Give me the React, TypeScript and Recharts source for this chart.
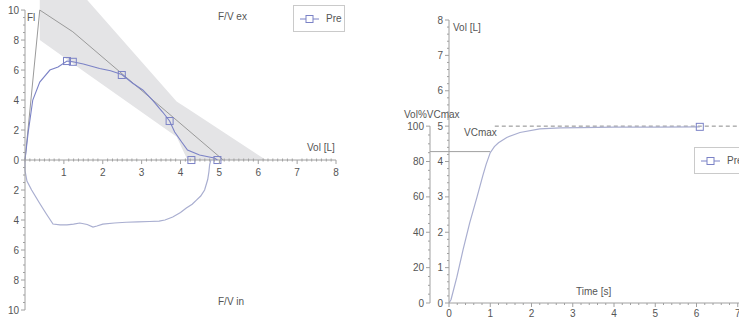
import React from 'react';
import {
  ComposedChart,
  Line,
  Area,
  Scatter,
  XAxis,
  YAxis,
  ReferenceLine,
  Legend,
} from 'recharts';

// ---- flow / volume loop (left) ----
const expVol = [0, 0.08, 0.2, 0.38, 0.64, 0.85, 1.08, 1.23, 1.5, 1.92, 2.2, 2.49, 2.78, 3.03, 3.28, 3.54, 3.72, 3.85, 4.03, 4.18, 4.49, 4.74, 4.87, 4.95];
const expFlow = [0, 1.8, 4.0, 5.2, 6.0, 6.2, 6.6, 6.55, 6.4, 6.1, 5.95, 5.7, 5.1, 4.67, 4.0, 3.2, 2.6, 1.87, 1.2, 0.67, 0.33, 0.2, 0.13, 0];

const inspVol = [0, 0, 0.05, 0.17, 0.38, 0.55, 0.72, 0.9, 1.08, 1.25, 1.41, 1.6, 1.75, 1.85, 2.0, 2.3, 2.6, 2.9, 3.2, 3.45, 3.6, 3.8, 4.0, 4.15, 4.3, 4.41, 4.52, 4.62, 4.7, 4.73, 4.75, 4.78];
const inspFlow = [0, -0.7, -1.4, -2.0, -2.9, -3.6, -4.27, -4.33, -4.33, -4.27, -4.2, -4.3, -4.47, -4.4, -4.27, -4.2, -4.15, -4.13, -4.1, -4.07, -4.0, -3.8, -3.5, -3.2, -2.95, -2.67, -2.4, -2.0, -1.3, -0.8, -0.3, 0];

const predVol = [0, 0.38, 1.23, 5.1];
const predFlow = [0, 10, 8.55, 0];

const bandVol = [0.38, 1.6, 3.9, 4.18, 6.2];
const bandLow = [8, 5.76, 1.55, 0, 0];
const bandHigh = [10.67, 10.67, 3.9, 3.43, 0];

const preVol = [1.08, 1.23, 2.49, 3.72, 4.28, 4.95];
const preFlow = [6.6, 6.55, 5.67, 2.6, 0, 0];

const flowLabels = [-10, -8, -6, -4, -2, 0, 2, 4, 6, 8, 10];
const volLabels = [1, 2, 3, 4, 5, 6, 7, 8];

// ---- volume / time (right) ----
const timeS = [0, 0.05, 0.19, 0.34, 0.5, 0.68, 0.82, 0.9, 1.0, 1.1, 1.2, 1.4, 1.72, 2.2, 2.7, 3.2, 4.0, 5.0, 6.08];
const volL = [0, 0.1, 0.73, 1.5, 2.26, 3.0, 3.6, 3.92, 4.25, 4.42, 4.53, 4.68, 4.82, 4.92, 4.95, 4.96, 4.97, 4.97, 4.98];

const vcMarkT = [6.08];
const vcMarkV = [4.98];
const vcMax = 5;
const vcLineStart = 1.11;
const fev1 = 4.28;
const fev1Time = 1.0;
const pctAxisT = -0.46;

const pctLabels = [0, 20, 40, 60, 80, 100];
const timeLabels = [0, 1, 2, 3, 4, 5, 6, 7, 8];
const volTimeLabels = [0, 1, 2, 3, 4, 5, 6, 7, 8];

const FONT = '"Liberation Sans", Arial, sans-serif';
const TXT = '#555';
const AXIS = '#a0a0a0';
const BLUE = '#7b82c6';
const LIGHT = '#a9aed0';
const GREY = '#9a9a9a';
const BAND = '#e4e4e6';

const L_H = 310;
const L_TOP = 10.67;
const ZERO_OFFSET = (L_H * 10) / (L_TOP + 10);
const TOP_GAP = (L_H * (L_TOP - 10)) / (L_TOP + 10);
const R_H = 283;
const PCT_MAX = 160;

const zip = (xs: number[], ys: number[], kx: string, ky: string) =>
  xs.map((x, i) => ({ [kx]: x, [ky]: ys[i] }));

const expData = zip(expVol, expFlow, 'vol', 'flow');
const inspData = zip(inspVol, inspFlow, 'vol', 'flow');
const predData = zip(predVol, predFlow, 'vol', 'flow');
const preData = zip(preVol, preFlow, 'vol', 'flow');
const bandData = bandVol.map((v, i) => ({ vol: v, band: [bandLow[i], bandHigh[i]] }));
const vtData = zip(timeS, volL, 't', 'v');
const vcData = zip(vcMarkT, vcMarkV, 't', 'v');

const steps = (from: number, to: number, div: number) => {
  const out: number[] = [];
  for (let i = Math.round(from * div); i <= Math.round(to * div); i++) out.push(i / div);
  return out;
};

const Square = ({ cx, cy }: any) => (
  <rect x={cx - 3.5} y={cy - 3.5} width={7} height={7} fill="none" stroke={BLUE} strokeWidth={1} />
);

const LeftYTick = ({ x, y, payload }: any) => {
  const v = payload.value;
  const major = flowLabels.includes(v);
  return (
    <g>
      <line x1={x - (major ? 4 : 2)} x2={x} y1={y} y2={y} stroke={AXIS} />
      {major && (
        <text x={x - 6} y={y} dy={3.5} textAnchor="end" fontSize={10} fill={TXT} fontFamily={FONT}>
          {Math.abs(v)}
        </text>
      )}
    </g>
  );
};

const LeftXTick = ({ x, y, payload }: any) => {
  const v = payload.value;
  const zy = y - ZERO_OFFSET;
  const major = volLabels.includes(v);
  return (
    <g>
      <line x1={x} x2={x} y1={zy - (major ? 0 : 1.5)} y2={zy + (major ? 4 : 1.5)} stroke={AXIS} />
      {major && (
        <text x={x} y={zy + 16} textAnchor="middle" fontSize={10} fill={TXT} fontFamily={FONT}>
          {v}
        </text>
      )}
    </g>
  );
};

const VolTick = ({ x, y, payload }: any) => {
  const v = payload.value;
  const major = volTimeLabels.includes(v);
  return (
    <g>
      <line x1={x - (major ? 4 : 2)} x2={x} y1={y} y2={y} stroke={AXIS} />
      {major && (
        <text x={x - 6} y={y} dy={3.5} textAnchor="end" fontSize={10} fill={TXT} fontFamily={FONT}>
          {v}
        </text>
      )}
    </g>
  );
};

const PctTick = ({ x, y, payload }: any) => {
  const v = payload.value;
  const major = pctLabels.includes(v);
  const seg = (R_H / PCT_MAX) * 5;
  return (
    <g>
      <line x1={x - (major ? 4 : 2)} x2={x} y1={y} y2={y} stroke={AXIS} />
      {v < 100 && <line x1={x} x2={x} y1={y} y2={y - seg} stroke={AXIS} />}
      {major && (
        <text x={x - 6} y={y} dy={3.5} textAnchor="end" fontSize={10} fill={TXT} fontFamily={FONT}>
          {v}
        </text>
      )}
    </g>
  );
};

const TimeTick = ({ x, y, payload }: any) => {
  const v = payload.value;
  const major = timeLabels.includes(v);
  return (
    <g>
      <line x1={x} x2={x} y1={y} y2={y + (major ? 4 : 2)} stroke={AXIS} />
      {major && (
        <text x={x} y={y + 14} textAnchor="middle" fontSize={10} fill={TXT} fontFamily={FONT}>
          {v}
        </text>
      )}
    </g>
  );
};

const PreLegend = () => (
  <div
    style={{
      width: 52,
      height: 27,
      boxSizing: 'border-box',
      border: '1.5px solid #cacaca',
      background: '#fff',
      display: 'flex',
      alignItems: 'center',
      paddingLeft: 6,
      fontSize: 10,
      color: TXT,
      fontFamily: FONT,
    }}
  >
    <svg width={19} height={10} style={{ marginRight: 7 }}>
      <line x1={0} x2={19} y1={5} y2={5} stroke={BLUE} />
      <rect x={6} y={1.5} width={7} height={7} fill="#fff" stroke={BLUE} />
    </svg>
    Pre
  </div>
);

const Label = ({ x, y, children }: { x: number; y: number; children: React.ReactNode }) => (
  <div style={{ position: 'absolute', left: x, top: y, fontSize: 10, color: TXT, fontFamily: FONT, lineHeight: '12px', whiteSpace: 'nowrap' }}>
    {children}
  </div>
);

export default function App() {
  return (
    <div style={{ position: 'absolute', left: 0, top: 0, width: 739, height: 322, overflow: 'hidden', background: '#fff' }}>
      <div style={{ position: 'absolute', left: 0, top: 0 }}>
        <ComposedChart width={345} height={322} margin={{ top: 0, right: 9, bottom: 11, left: 0 }}>
          <XAxis
            type="number"
            dataKey="vol"
            domain={[0, 8]}
            ticks={steps(0, 8, 8)}
            interval={0}
            height={1}
            tickSize={0}
            tickMargin={0}
            axisLine={false}
            tickLine={false}
            tick={<LeftXTick />}
          />
          <YAxis
            type="number"
            dataKey="flow"
            domain={[-10, L_TOP]}
            ticks={steps(-10, 10, 2)}
            interval={0}
            width={25}
            tickSize={0}
            tickMargin={0}
            axisLine={{ stroke: AXIS, strokeDasharray: `0 ${TOP_GAP} ${L_H} 1000` }}
            tickLine={false}
            tick={<LeftYTick />}
          />
          <Area data={bandData} dataKey="band" type="linear" stroke="none" fill={BAND} fillOpacity={1} isAnimationActive={false} legendType="none" />
          <ReferenceLine y={0} stroke={AXIS} />
          <Line data={predData} dataKey="flow" type="linear" stroke={GREY} strokeWidth={1} dot={false} isAnimationActive={false} legendType="none" />
          <Line data={inspData} dataKey="flow" type="linear" stroke={LIGHT} strokeWidth={1.2} dot={false} isAnimationActive={false} legendType="none" />
          <Line data={expData} dataKey="flow" type="linear" stroke={BLUE} strokeWidth={1.1} dot={false} isAnimationActive={false} legendType="none" />
          <Scatter data={preData} name="Pre" shape={<Square />} isAnimationActive={false} />
          <Legend content={<PreLegend />} layout="vertical" align="center" verticalAlign="middle" wrapperStyle={{ left: 293, top: 5, width: 52, height: 27 }} />
        </ComposedChart>
      </div>

      <div style={{ position: 'absolute', left: 380, top: 0 }}>
        <ComposedChart width={420} height={322} margin={{ top: 20, right: 21, bottom: 0, left: 0 }}>
          <XAxis
            type="number"
            dataKey="t"
            domain={[0, 8]}
            ticks={steps(0, 8, 5)}
            interval={0}
            height={19}
            tickSize={0}
            tickMargin={0}
            axisLine={{ stroke: AXIS }}
            tickLine={false}
            tick={<TimeTick />}
          />
          <YAxis
            yAxisId="a"
            type="number"
            dataKey="v"
            domain={[0, 8]}
            ticks={steps(0, 8, 5)}
            interval={0}
            width={19}
            tickSize={0}
            tickMargin={0}
            axisLine={{ stroke: AXIS }}
            tickLine={false}
            tick={<VolTick />}
          />
          <YAxis
            yAxisId="b"
            type="number"
            domain={[0, PCT_MAX]}
            allowDataOverflow
            ticks={steps(0, 100, 0.2)}
            interval={0}
            width={50}
            tickSize={0}
            tickMargin={0}
            axisLine={false}
            tickLine={false}
            tick={<PctTick />}
          />
          <ReferenceLine
            yAxisId="a"
            segment={[{ x: vcLineStart, y: vcMax }, { x: 8, y: vcMax }]}
            stroke="#8a8a8a"
            strokeDasharray="4 3"
          />
          <ReferenceLine
            yAxisId="a"
            segment={[{ x: pctAxisT, y: fev1 }, { x: fev1Time, y: fev1 }]}
            stroke={AXIS}
            ifOverflow="visible"
          />
          <Line yAxisId="a" data={vtData} dataKey="v" type="linear" stroke={LIGHT} strokeWidth={1.2} dot={false} isAnimationActive={false} legendType="none" />
          <Scatter yAxisId="a" data={vcData} name="Pre" shape={<Square />} isAnimationActive={false} />
          <Legend content={<PreLegend />} layout="vertical" align="center" verticalAlign="middle" wrapperStyle={{ left: 314, top: 147, width: 52, height: 27 }} />
        </ComposedChart>
      </div>

      <Label x={27} y={12}>Fl</Label>
      <Label x={218} y={11}>F/V ex</Label>
      <Label x={307} y={142}>Vol [L]</Label>
      <Label x={218} y={296}>F/V in</Label>

      <Label x={453} y={22}>Vol [L]</Label>
      <Label x={404} y={109}>Vol%VCmax</Label>
      <Label x={464} y={127}>VCmax</Label>
      <Label x={576} y={286}>Time [s]</Label>
    </div>
  );
}
